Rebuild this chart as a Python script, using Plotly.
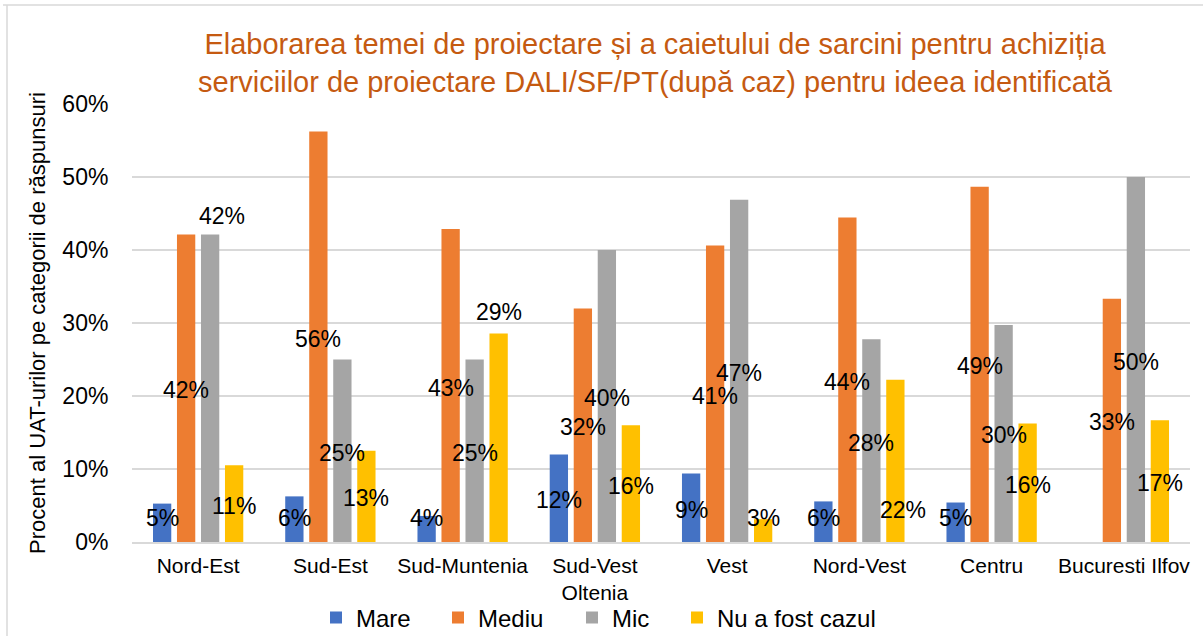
import plotly.graph_objects as go

categories = ["Nord-Est", "Sud-Est", "Sud-Muntenia", "Sud-Vest<br>Oltenia", "Vest",
              "Nord-Vest", "Centru", "Bucuresti Ilfov"]
series_names = ["Mare", "Mediu", "Mic", "Nu a fost cazul"]
mare = [5.26, 6.25, 3.57, 12.0, 9.38, 5.56, 5.41, 0.0]
mediu = [42.11, 56.25, 42.86, 32.0, 40.63, 44.44, 48.65, 33.33]
mic = [42.11, 25.0, 25.0, 40.0, 46.88, 27.78, 29.73, 50.0]
nu_a_fost = [10.53, 12.5, 28.57, 16.0, 3.13, 22.22, 16.22, 16.67]
colors = ["#4472C4", "#ED7D31", "#A5A5A5", "#FFC000"]
y_ticks = [0, 10, 20, 30, 40, 50, 60]
y_tick_labels = ["0%", "10%", "20%", "30%", "40%", "50%", "60%"]

W, H = 1203, 636
ML, MR, MT, MB = 132, 13, 104, 94
PW, PH = W - ML - MR, H - MT - MB
BARGAP, BARGROUPGAP = 0.274, 0.2375
slot = PW / len(categories) * (1 - BARGAP) / 4
FONT = "Liberation Sans, Arial, sans-serif"
LABEL_MIN = 3.55          # lowest label centre (data units), as the reference clamps it
# special label placements: (series, category) -> (x shift px, y shift px above bar top)
label_above = {(2, 0): (12, 19), (3, 2): (0, 21)}
label_moved = {(3, 5): (8, 4.6)}   # (x shift px, label centre in data units)

values = [mare, mediu, mic, nu_a_fost]
fig = go.Figure()
legend_x_px = [331, 453, 587, 692]
for j, (name, vals, col) in enumerate(zip(series_names, values, colors)):
    lg = "legend" if j == 0 else f"legend{j+1}"
    fig.add_trace(go.Bar(
        x=categories, y=vals, name=name, marker=dict(color=col, line=dict(width=0)),
        legend=lg, hoverinfo="skip"))

annotations = []
for j, vals in enumerate(values):
    for i, v in enumerate(vals):
        if v <= 0:
            continue
        xs = (j - 1.5) * slot
        if (j, i) in label_above:
            dx, dy = label_above[(j, i)]
            y, ys = v, dy
            xs += dx
        elif (j, i) in label_moved:
            dx, y = label_moved[(j, i)]
            ys = -2
            xs += dx
        else:
            y = max(v / 2, LABEL_MIN)
            ys = -2
        annotations.append(dict(
            x=categories[i], y=y, xref="x", yref="y", xshift=xs, yshift=ys,
            text=f"{int(v + 0.5)}%", showarrow=False, xanchor="center", yanchor="middle",
            font=dict(family=FONT, size=23, color="#000000")))

def px_x(px):
    return (px - ML) / PW

def px_y(py):
    return (MT + PH - py) / PH

border = "#D9D9D9"
shapes = [
    dict(type="line", xref="paper", yref="paper", x0=px_x(3), x1=px_x(1210),
         y0=px_y(5), y1=px_y(5), line=dict(color=border, width=1.5)),
    dict(type="line", xref="paper", yref="paper", x0=px_x(7), x1=px_x(7),
         y0=px_y(5), y1=px_y(640), line=dict(color=border, width=1.5)),
]

layout_legends = {}
for j in range(4):
    key = "legend" if j == 0 else f"legend{j+1}"
    layout_legends[key] = dict(
        orientation="h", x=px_x(legend_x_px[j] - 15), xanchor="left",
        y=px_y(618), yanchor="middle", bgcolor="rgba(0,0,0,0)",
        font=dict(family=FONT, size=24, color="#000000"))

fig.update_layout(
    width=W, height=H,
    margin=dict(l=ML, r=MR, t=MT, b=MB, autoexpand=False),
    paper_bgcolor="white", plot_bgcolor="white",
    barmode="group", bargap=BARGAP, bargroupgap=BARGROUPGAP,
    title=dict(
        text="Elaborarea temei de proiectare și a caietului de sarcini pentru achiziția<br>"
             "serviciilor de proiectare DALI/SF/PT(după caz) pentru ideea identificată",
        x=655 / W, xanchor="center", xref="container",
        y=1 - 54 / H, yanchor="middle", yref="container",
        font=dict(family=FONT, size=29, color="#C55A11")),
    xaxis=dict(
        showgrid=False, showline=True, linecolor=border, linewidth=1.5,
        ticks="outside", ticklen=4, tickcolor="rgba(0,0,0,0)",
        tickfont=dict(family=FONT, size=21, color="#000000"), fixedrange=True),
    yaxis=dict(
        range=[0, 60], tickvals=y_ticks, ticktext=y_tick_labels,
        showgrid=True, gridcolor=border, gridwidth=1.5, zeroline=False,
        ticks="outside", ticklen=18, tickcolor="rgba(0,0,0,0)",
        tickfont=dict(family=FONT, size=23, color="#000000"),
        title=dict(text="Procent al UAT-urilor pe categorii de răspunsuri",
                   font=dict(family=FONT, size=22, color="#000000"), standoff=10),
        fixedrange=True),
    annotations=annotations,
    shapes=shapes,
    showlegend=True,
    **layout_legends,
)

fig.write_html("out.html", config={"displayModeBar": False},
               post_script="document.body.style.margin='0px';")
